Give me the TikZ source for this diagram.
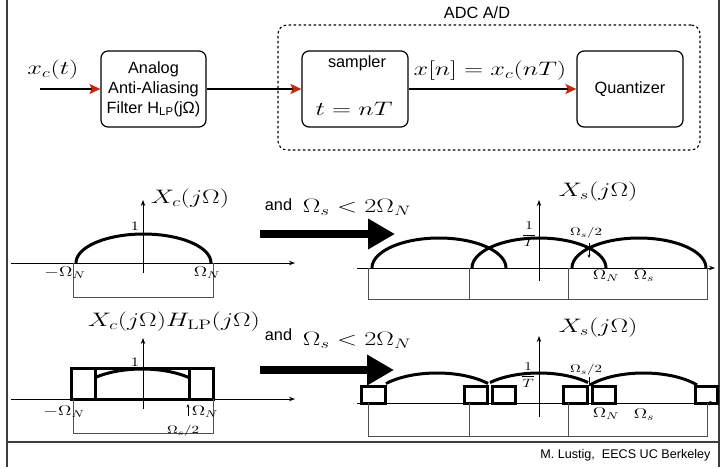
\RequirePackage{fix-cm}
\documentclass[tikz,border=0pt]{standalone}
\usepackage[no-math]{fontspec}
\usepackage{graphicx}
\usetikzlibrary{arrows.meta}
\newfontfamily\lsans{Liberation Sans}
\definecolor{arrowred}{RGB}{196,38,12}
\definecolor{framegray}{RGB}{60,60,60}
\definecolor{rectgray}{RGB}{80,80,80}
% math set wide, as on the slide
\newcommand{\mlab}[2]{\scalebox{1.35}[1]{\fontsize{#1}{#1}\selectfont$#2$}}
\tikzset{
  blk/.style={draw, rounded corners=7pt, line width=1.2pt, minimum height=76pt,
    inner sep=0pt, align=center, font=\lsans\fontsize{16.3}{20}\selectfont},
  adc/.style={draw, dash pattern=on 2.5pt off 2.5pt, rounded corners=9pt, line width=1.1pt},
  sanslab/.style={font=\lsans\fontsize{16.3}{20}\selectfont, inner sep=1pt},
  flow/.style={line width=2.6pt, -{Stealth[length=11pt, width=10pt, inset=2.5pt, color=arrowred]}},
  bigarrow/.style={line width=8.5pt, -{Triangle[length=27pt, width=29pt]}},
  axis/.style={line width=0.8pt, -{Stealth[length=6pt, width=4.5pt]}},
  spec/.style={line width=3pt},
  thinrect/.style={draw=rectgray, line width=1pt},
  lab/.style={inner sep=0.5pt},
}
\begin{document}
\begin{tikzpicture}[x=1pt, y=-1pt]
\useasboundingbox (0,0) rectangle (728,467);

% slide frame and footer rule
\draw[framegray, line width=1.2pt] (7,0) -- (7,467);
\draw[framegray, line width=1.2pt] (719,0) -- (719,467);
\draw[framegray, line width=1.2pt] (7,442) -- (719,442);
\node[font=\lsans\fontsize{12.6}{14}\selectfont, anchor=east] (credit) at (714,455) {M. Lustig,\ \ EECS UC Berkeley};

% ---------------- acquisition chain ----------------
\node[adc, minimum width=422pt, minimum height=125pt] (adcbox) at (489,87.5) {};
\node[sanslab] (adclabel) at (477,13) {ADC A/D};

\node[blk, minimum width=105pt] (filt) at (153.5,89) {Analog\\Anti-Aliasing\\Filter H\textsubscript{LP}(jΩ)};
\node[blk, minimum width=106pt] (samp) at (355,89) {};
\node[sanslab] (samplabel) at (357,63) {sampler};
\node[lab] (samptime) at (354,109) {\mlab{19.5}{t = nT}};
\node[blk, minimum width=106pt] (quant) at (630,89) {Quantizer};

\coordinate (src) at (40,89);
\node[lab] (xin) at (53,70) {\mlab{19.5}{x_c(t)}};
\node[lab] (xn) at (490,71) {\mlab{19.5}{x[n] = x_c(nT)}};

\draw[flow] (src) -- (filt);
\draw[flow] (filt) -- (samp);
\draw[flow] (samp) -- (quant);

% ---------------- row 1: spectrum of x_c and its samples ----------------
\draw[axis] (11,263) -- (295,263);
\draw[axis] (143,273) -- (143,200);
\draw[spec, domain=0:180, samples=61, smooth, variable=\t]
  plot ({143.5+67.5*cos(\t)}, {263-29*sin(\t)});
\draw[thinrect] (73,263) -- (73,297) -- (213,297) -- (213,263);
\node[lab] (r1title) at (190,199) {\mlab{19.5}{X_c(j\Omega)}};
\node[lab] (r1one) at (135,226) {\mlab{13}{1}};
\node[lab] (r1neg) at (65,273) {\mlab{14}{-\Omega_N}};
\node[lab] (r1pos) at (207,273) {\mlab{14}{\Omega_N}};

\node[sanslab] (r1and) at (278.5,204.5) {and};
\node[lab] (r1cond) at (357,207) {\mlab{19.5}{\Omega_s < 2\Omega_N}};
\coordinate (r1a) at (260,234);
\coordinate (r1b) at (395,234);
\draw[bigarrow] (r1a) -- (r1b);

\draw[axis] (357,268) -- (715,268);
\draw[axis] (539,281) -- (539,200);
\foreach \c in {439,539,639}
  \draw[spec, domain=0:180, samples=61, smooth, variable=\t]
    plot ({\c+67*cos(\t)}, {268-30*sin(\t)});
\draw[thinrect] (368,268) -- (368,299) -- (707,299) -- (707,268);
\draw[thinrect] (469,268) -- (469,299);
\draw[thinrect] (568,268) -- (568,299);
\node[lab] (r1stitle) at (598,192) {\mlab{19.5}{X_s(j\Omega)}};
\node[lab] (r1gain) at (529,234) {\mlab{12}{\displaystyle\frac{1}{T}}};
\node[lab] (r1half) at (586,233) {\mlab{11}{\Omega_s/2}};
\coordinate (r1h1) at (589,243);
\coordinate (r1h2) at (589,258);
\draw[line width=0.7pt, -{Stealth[length=3.5pt, width=3pt]}] (r1h1) -- (r1h2);
\node[lab] (r1sn) at (606,276) {\mlab{14}{\Omega_N}};
\node[lab] (r1ss) at (644,276) {\mlab{14}{\Omega_s}};

% ---------------- row 2: after the anti-aliasing filter ----------------
\draw[axis] (11,399) -- (295,399);
\draw[axis] (143,409) -- (143,338);
\draw[spec] (71,399) rectangle (213,368);
\draw[spec] (95,368) -- (95,399);
\draw[spec] (189,368) -- (189,399);
\draw[spec, domain=45.45:134.55, samples=41, smooth, variable=\t]
  plot ({142+67*cos(\t)}, {399-30*sin(\t)});
\draw[thinrect] (73,399) -- (73,433) -- (213,433) -- (213,399);
\node[lab] (r2title) at (174,322) {\mlab{19.5}{X_c(j\Omega)H_{\mathrm{LP}}(j\Omega)}};
\node[lab] (r2one) at (135,362) {\mlab{13}{1}};
\node[lab] (r2neg) at (64,412) {\mlab{14}{-\Omega_N}};
\coordinate (r2u1) at (188,416);
\coordinate (r2u2) at (188,404);
\draw[line width=0.7pt, -{Stealth[length=3.5pt, width=3pt]}] (r2u1) -- (r2u2);
\node[lab] (r2pos) at (205,412) {\mlab{14}{\Omega_N}};
\node[lab] (r2half) at (183,431) {\mlab{11}{\Omega_s/2}};

\node[sanslab] (r2and) at (278.5,334.5) {and};
\node[lab] (r2cond) at (357,340) {\mlab{19.5}{\Omega_s < 2\Omega_N}};
\coordinate (r2a) at (260,370);
\coordinate (r2b) at (394,370);
\draw[bigarrow] (r2a) -- (r2b);

\draw[axis] (357,403) -- (715,403);
\draw[axis] (539,417) -- (539,336);
\foreach \xa/\xb in {361/385,464/487,492/515,563/587,592/615,695/717}
  \draw[spec] (\xa,386) rectangle (\xb,403);
\draw[spec, domain=40.4:139.6, samples=41, smooth, variable=\t]
  plot ({437+67*cos(\t)}, {403-30*sin(\t)});
\draw[spec, domain=43:137, samples=41, smooth, variable=\t]
  plot ({539+67*cos(\t)}, {403-30*sin(\t)});
\draw[spec, domain=37:143, samples=41, smooth, variable=\t]
  plot ({643.5+67*cos(\t)}, {403-30*sin(\t)});
\draw[thinrect] (368,403) -- (368,436) -- (707,436) -- (707,403);
\draw[thinrect] (469,403) -- (469,436);
\draw[thinrect] (568,403) -- (568,436);
\node[lab] (r2stitle) at (598,328) {\mlab{19.5}{X_s(j\Omega)}};
\node[lab] (r2gain) at (528,375) {\mlab{12}{\displaystyle\frac{1}{T}}};
\node[lab] (r2shalf) at (586,370) {\mlab{11}{\Omega_s/2}};
\coordinate (r2t1) at (589,377);
\coordinate (r2t2) at (589,386);
\draw[line width=0.7pt] (r2t1) -- (r2t2);
\node[lab] (r2sn) at (606,414) {\mlab{14}{\Omega_N}};
\node[lab] (r2ss) at (644,415) {\mlab{14}{\Omega_s}};
\end{tikzpicture}
\end{document}
